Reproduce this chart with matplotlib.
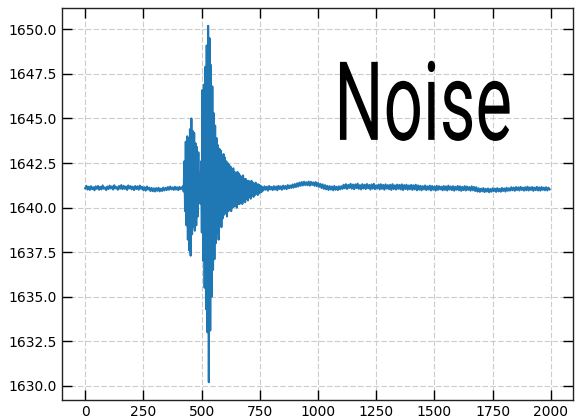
import numpy as np
import matplotlib
matplotlib.use("Agg")
import matplotlib.pyplot as plt
from matplotlib import patheffects
from matplotlib.transforms import Affine2D

# ---------------------------------------------------------------- #
#                   signal values             #
# ---------------------------------------------------------------- #
# quiet part before the event, samples 0..415 (every 5th sample)
pre_start, pre_step = 0, 5
pre_vals = [
    1641.08, 1641.22, 1641.01, 1641.17, 1640.99, 1641.20, 1641.03, 1641.14, 1640.97, 1641.19,
    1641.05, 1641.21, 1641.00, 1641.16, 1641.02, 1641.24, 1641.06, 1641.13, 1640.98, 1641.18,
    1641.04, 1641.23, 1641.07, 1641.19, 1641.01, 1641.25, 1641.08, 1641.15, 1641.00, 1641.21,
    1641.06, 1641.26, 1641.03, 1641.22, 1641.05, 1641.18, 1640.99, 1641.24, 1641.07, 1641.20,
    1641.02, 1641.17, 1640.98, 1641.21, 1641.04, 1641.19, 1641.00, 1641.23, 1641.05, 1641.16,
    1640.97, 1641.14, 1640.95, 1641.18, 1641.01, 1641.12, 1640.93, 1641.10, 1640.92, 1641.08,
    1640.90, 1641.09, 1640.94, 1641.11, 1640.91, 1641.06, 1640.93, 1641.12, 1640.96, 1641.10,
    1640.98, 1641.15, 1641.00, 1641.18, 1641.02, 1641.13, 1640.99, 1641.17, 1641.01, 1641.14,
    1640.98, 1641.16, 1641.03, 1641.12,
]
# the event, samples 420..759 (every 3rd sample)
burst_start, burst_step = 420, 3
burst_vals = [
    1641.2, 1640.9, 1642.6, 1639.8, 1643.7, 1639.0, 1644.0, 1638.2, 1643.9, 1637.6,
    1644.4, 1637.3, 1645.0, 1638.5, 1644.3, 1638.9, 1644.2, 1638.7, 1643.6, 1639.0,
    1643.4, 1639.5, 1643.1, 1640.3, 1641.9, 1640.2, 1642.6, 1638.6, 1646.6, 1637.0,
    1646.9, 1635.5, 1647.9, 1634.3, 1649.1, 1633.0, 1650.2, 1630.2, 1649.5, 1633.1,
    1648.0, 1635.0, 1646.8, 1636.5, 1645.3, 1637.1, 1644.6, 1638.0, 1643.9, 1638.6,
    1643.5, 1638.2, 1643.3, 1639.1, 1643.2, 1638.9, 1642.9, 1639.4, 1643.0, 1639.6,
    1642.8, 1639.7, 1642.6, 1639.5, 1642.5, 1639.8, 1642.4, 1639.9, 1642.3, 1639.8,
    1642.1, 1640.0, 1642.2, 1640.05, 1642.0, 1640.1, 1641.9, 1640.0, 1642.0, 1640.2,
    1641.9, 1640.2, 1641.8, 1640.3, 1641.7, 1640.2, 1641.8, 1640.4, 1641.6, 1640.3,
    1641.6, 1640.5, 1641.5, 1640.4, 1641.5, 1640.6, 1641.4, 1640.5, 1641.5, 1640.7,
    1641.4, 1640.6, 1641.3, 1640.7, 1641.4, 1640.8, 1641.3, 1640.7, 1641.3, 1640.8,
    1641.25, 1640.85, 1641.2, 1640.9,
]
# quiet part after the event, samples 760..1995 (every 5th sample)
post_start, post_step = 760, 5
post_vals = [
    1641.15, 1640.96, 1641.19, 1641.00, 1641.17, 1640.95, 1641.21, 1641.02, 1641.16, 1640.98,
    1641.20, 1641.01, 1641.18, 1640.97, 1641.22, 1641.04, 1641.19, 1641.00, 1641.23, 1641.05,
    1641.21, 1641.03, 1641.26, 1641.08, 1641.24, 1641.10,
    1641.29, 1641.12, 1641.32, 1641.15, 1641.36, 1641.18, 1641.40, 1641.22, 1641.43, 1641.24,
    1641.45, 1641.26, 1641.42, 1641.25, 1641.46, 1641.23, 1641.44, 1641.27, 1641.41, 1641.22,
    1641.43, 1641.20, 1641.38,
    1641.16, 1641.33, 1641.10, 1641.30, 1641.05, 1641.26, 1641.02, 1641.22, 1640.99, 1641.20,
    1641.01, 1641.18, 1640.97, 1641.21, 1641.00, 1641.17, 1640.98, 1641.19, 1641.02, 1641.20,
    1641.05, 1641.28, 1641.08, 1641.31, 1641.04, 1641.27, 1641.10, 1641.33, 1641.06, 1641.29,
    1641.03, 1641.30, 1641.09, 1641.34, 1641.05, 1641.26, 1641.02, 1641.31, 1641.07, 1641.28,
    1641.04, 1641.32, 1641.08, 1641.27, 1641.01, 1641.30, 1641.06, 1641.33, 1641.03, 1641.25,
    1641.07, 1641.29, 1641.02, 1641.31, 1641.05, 1641.27, 1641.00, 1641.30, 1641.06, 1641.26,
    1641.03, 1641.28, 1640.99, 1641.31, 1641.04, 1641.25, 1641.01, 1641.29, 1641.05, 1641.27,
    1641.02, 1641.30, 1640.98, 1641.26, 1641.04, 1641.28, 1641.00, 1641.24, 1641.03, 1641.27,
    1640.99, 1641.25, 1641.02, 1641.28, 1640.97, 1641.24,
    1641.00, 1641.22, 1640.97, 1641.20, 1641.02, 1641.24, 1640.98, 1641.19, 1641.01, 1641.23,
    1640.96, 1641.21, 1641.00, 1641.18, 1640.95, 1641.22, 1640.99, 1641.20, 1641.02, 1641.17,
    1640.97, 1641.21, 1640.99, 1641.19, 1640.96, 1641.23, 1641.01, 1641.18, 1640.98, 1641.20,
    1640.95, 1641.17, 1641.00, 1641.21, 1640.97, 1641.19, 1640.94, 1641.16, 1640.98, 1641.20,
    1640.96, 1641.18, 1640.99, 1641.15, 1640.95, 1641.19, 1640.97, 1641.16, 1640.93, 1641.14,
    1640.90, 1641.08, 1640.88, 1641.06, 1640.91, 1641.09, 1640.87, 1641.05, 1640.90, 1641.07,
    1640.86, 1641.04, 1640.89, 1641.08, 1640.92, 1641.06, 1640.88, 1641.09, 1640.91, 1641.05,
    1640.89, 1641.10, 1640.93, 1641.07, 1640.90, 1641.11, 1640.94, 1641.08,
    1640.95, 1641.14, 1640.97, 1641.12, 1640.94, 1641.15, 1640.98, 1641.13, 1640.96, 1641.16,
    1640.99, 1641.12, 1640.95, 1641.14, 1640.97, 1641.17, 1640.96, 1641.13, 1640.99, 1641.15,
    1640.94, 1641.12, 1640.98, 1641.16, 1640.96, 1641.13, 1640.95, 1641.15, 1640.99, 1641.12,
    1640.97, 1641.14, 1640.96, 1641.11, 1641.02,
]

x_ticks = [0, 250, 500, 750, 1000, 1250, 1500, 1750, 2000]
y_ticks = [1630.0, 1632.5, 1635.0, 1637.5, 1640.0, 1642.5, 1645.0, 1647.5, 1650.0]
label = "Noise"

# sample positions for each stretch
t = np.concatenate([
    pre_start + pre_step * np.arange(len(pre_vals)),
    burst_start + burst_step * np.arange(len(burst_vals)),
    post_start + post_step * np.arange(len(post_vals)),
])
y = np.array(pre_vals + burst_vals + post_vals)


class Squeeze(patheffects.AbstractPathEffect):
    """draw text squeezed horizontally about its middle (condensed look)"""
    def __init__(self, sx=0.6):
        super().__init__()
        self.sx = sx

    def draw_path(self, renderer, gc, tpath, affine, rgbFace=None):
        ext = tpath.get_extents()
        cx = 0.5 * (ext.x0 + ext.x1)
        squeeze = Affine2D().translate(-cx, 0).scale(self.sx, 1.0).translate(cx, 0)
        renderer.draw_path(gc, tpath, squeeze + affine, rgbFace)


fig = plt.figure(figsize=(5.76, 4.2), dpi=100)
ax = fig.add_axes([0.1076, 0.0476, 0.887, 0.9334])

ax.plot(t, y, color="#1f77b4", lw=1.5)

ax.set_xticks(x_ticks)
ax.set_yticks(y_ticks)
ax.set_yticklabels([f"{v:.1f}" for v in y_ticks])
ax.tick_params(direction="in", length=7, width=1, top=True, right=True, labelsize=10)
ax.grid(True, linestyle=(0, (5, 2)), color="#cccccc", lw=0.8)
for s in ax.spines.values():
    s.set_color("#222222")
    s.set_linewidth(1.0)

# "Noise" tag, centred on the ink and squeezed about its centre
fig.text(0.733, 0.667, label, fontsize=79, family="Roboto", color="black",
         ha="center", va="baseline", path_effects=[Squeeze(0.63)])

fig.savefig("out.png", dpi=100)
